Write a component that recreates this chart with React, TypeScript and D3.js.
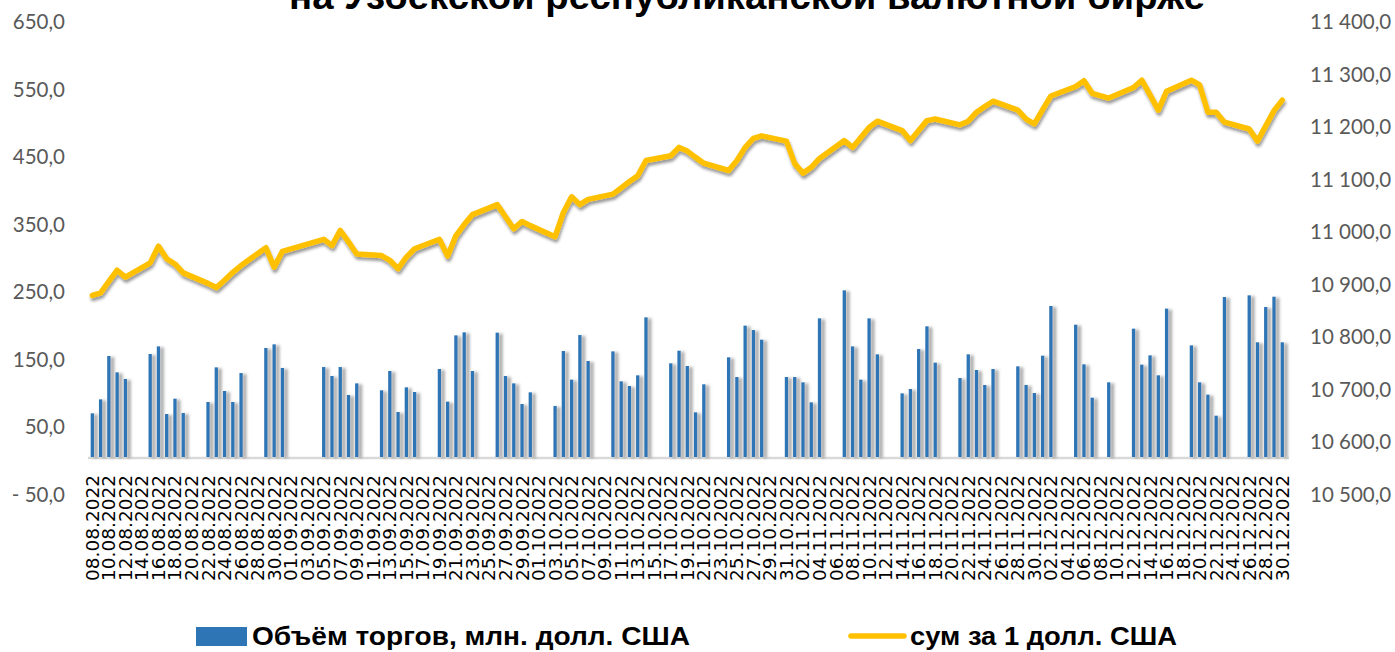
import React from "react";
import * as d3 from "d3";

// trading volume, mln USD, per trading day
const volAug = [64.7, 85.4, 149.6, 125.4, 115.6, 152.6, 163.9, 63.7, 86.4, 65.2, 81.5, 132.8, 97.8, 81.5, 124.4, 161.5, 166.9, 131.9];
const volSep = [133.3, 120, 133.3, 91.9, 109.1, 98.8, 127.4, 66.7, 103.2, 96.3, 130.4, 82, 180.2, 184.7, 127.4, 184.2, 120, 109.1, 78.5, 95.8];
const volOct = [75.6, 157, 114.6, 180.7, 142.2, 156.5, 112.1, 105.2, 121, 206.9, 138.8, 157.5, 134.8, 66.2, 107.7, 147.7, 118.5, 194.6, 188.1, 173.8, 118.5];
const volNov = [118.5, 110.6, 81, 205.4, 246.9, 163.9, 114.6, 205.4, 152.1, 94.3, 100.7, 160, 193.6, 139.8, 117, 152.1, 128.9, 106.7, 130.4, 134.3, 106.7, 94.8];
const volDec = [150.1, 223.7, 196, 137.3, 87.9, 110.6, 190.1, 136.8, 150.6, 121, 219.8, 165.4, 110.6, 92.4, 61.2, 237, 239.5, 169.9, 222.2, 237.5, 169.9];

// rate, sum per 1 USD
const rateAug = [10872, 10877, 10899, 10920, 10907, 10934, 10966, 10942, 10932, 10915, 10895, 10887, 10901, 10916, 10929, 10963, 10926, 10956];
const rateSep = [10979, 10967, 10996, 10974, 10951, 10948, 10939, 10923, 10945, 10961, 10979, 10947, 10986, 11007, 11026, 11045, 11022, 10999, 11013, 11005];
const rateOct = [10984, 11030, 11060, 11045, 11055, 11065, 11077, 11089, 11100, 11129, 11138, 11154, 11147, 11135, 11124, 11110, 11129, 11154, 11171, 11176, 11166];
const rateNov = [11123, 11105, 11116, 11133, 11167, 11154, 11173, 11192, 11204, 11186, 11167, 11186, 11205, 11208, 11197, 11204, 11221, 11232, 11242, 11225, 11208, 11199];
const rateDec = [11226, 11252, 11270, 11281, 11257, 11248, 11268, 11282, 11254, 11225, 11261, 11282, 11273, 11221, 11221, 11202, 11189, 11166, 11195, 11224, 11244];

const holidays = ["01.09.2022", "02.09.2022", "08.12.2022"];
const leftTicks = [-50, 50, 150, 250, 350, 450, 550, 650];
const rightTicks = [10500, 10600, 10700, 10800, 10900, 11000, 11100, 11200, 11300, 11400];

const title = "на Узбекской республиканской валютной бирже";
const legendBars = "Объём торгов, млн. долл. США";
const legendLine = "сум за 1 долл. США";

const fmtDay = d3.timeFormat("%d.%m.%Y");
const allDays = d3.timeDay.range(new Date(2022, 7, 8), new Date(2022, 11, 31)).map(fmtDay);
const tradeDays = d3.timeDay
  .range(new Date(2022, 7, 8), new Date(2022, 11, 31))
  .filter((d) => d.getDay() !== 0 && d.getDay() !== 6)
  .map(fmtDay)
  .filter((s) => !holidays.includes(s));

const volumes = [...volAug, ...volSep, ...volOct, ...volNov, ...volDec];
const rates = [...rateAug, ...rateSep, ...rateOct, ...rateNov, ...rateDec];
const rows = tradeDays.map((day, i) => ({ day, vol: volumes[i], rate: rates[i] }));

export default function App() {
  const width = 1395;
  const height = 652;

  const x = d3.scaleBand().domain(allDays).range([88.2, 1286.4]).paddingInner(0.6).paddingOuter(0.3);
  const yL = d3.scaleLinear().domain([-50, 650]).range([490.75, 18.25]);
  const yR = d3.scaleLinear().domain([10500, 11400]).range([490.75, 18.25]);
  const cx = (d: string) => (x(d) ?? 0) + x.bandwidth() / 2;

  const line = d3
    .line<{ day: string; rate: number }>()
    .x((d) => cx(d.day))
    .y((d) => yR(d.rate));

  const leftFmt = (v: number) => (v < 0 ? "- " + Math.abs(v).toFixed(1) : v.toFixed(1)).replace(".", ",");
  const rightFmt = (v: number) => {
    const s = v.toFixed(1).replace(".", ",");
    return s.slice(0, 2) + " " + s.slice(2);
  };

  const labelDays = allDays.filter((_, i) => i % 2 === 0);

  return (
    <svg width={width} height={height} style={{ position: "absolute", left: 0, top: 0, background: "#fff" }}>
      <defs>
        <filter id="barShadow" x="-200%" y="-5%" width="500%" height="115%">
          <feDropShadow dx="3.5" dy="1" stdDeviation="1.4" floodColor="#7a7a7a" floodOpacity="0.75" />
        </filter>
        <filter id="lineShadow" x="-5%" y="-20%" width="110%" height="150%">
          <feDropShadow dx="1" dy="3" stdDeviation="1.8" floodColor="#000" floodOpacity="0.4" />
        </filter>
      </defs>

      <text
        x={289}
        y={9}
        fontFamily="Liberation Sans, Arial, sans-serif"
        fontWeight="bold"
        fontSize={36}
        textLength={916}
        lengthAdjust="spacingAndGlyphs"
        fill="#000"
      >
        {title}
      </text>

      {/* left axis */}
      {leftTicks.map((t) => (
        <text
          key={"l" + t}
          x={65}
          y={yL(t) + 2.75}
          textAnchor="end"
          dominantBaseline="central"
          fontFamily="Lato, sans-serif"
          fontSize={20.5}
          fill="#595959"
        >
          {leftFmt(t)}
        </text>
      ))}

      {/* right axis */}
      {rightTicks.map((t) => (
        <text
          key={"r" + t}
          x={1310}
          y={yR(t) + 2.75}
          textAnchor="start"
          dominantBaseline="central"
          fontFamily="Lato, sans-serif"
          fontSize={20.5}
          fill="#595959"
        >
          {rightFmt(t)}
        </text>
      ))}

      {/* zero line */}
      <line x1={88} x2={1289} y1={yL(0) + 1} y2={yL(0) + 1} stroke="#d9d9d9" strokeWidth={2.5} />

      {/* bars */}
      <g filter="url(#barShadow)">
        {rows.map((r) => (
          <rect
            key={r.day}
            x={x(r.day)}
            y={yL(r.vol)}
            width={x.bandwidth()}
            height={yL(0) - yL(r.vol)}
            fill="#2E75B6"
          />
        ))}
      </g>

      {/* rate line */}
      <path
        d={line(rows) ?? ""}
        fill="none"
        stroke="#FFC000"
        strokeWidth={5.5}
        strokeLinejoin="round"
        strokeLinecap="round"
        filter="url(#lineShadow)"
      />

      {/* x labels */}
      {labelDays.map((d) => (
        <text
          key={"x" + d}
          transform={`translate(${cx(d)},475) rotate(-90)`}
          textAnchor="end"
          dominantBaseline="central"
          fontFamily="DejaVu Sans, sans-serif"
          fontSize={18.5}
          fill="#000"
        >
          {d}
        </text>
      ))}

      {/* legend */}
      <rect x={196} y={627} width={51} height={19} fill="#2E75B6" />
      <text
        x={252}
        y={645}
        fontFamily="Liberation Sans, Arial, sans-serif"
        fontWeight="bold"
        fontSize={25}
        textLength={438}
        lengthAdjust="spacingAndGlyphs"
        fill="#000"
      >
        {legendBars}
      </text>
      <line x1={851} x2={904} y1={636} y2={636} stroke="#FFC000" strokeWidth={5.5} strokeLinecap="round" />
      <text
        x={910}
        y={645}
        fontFamily="Liberation Sans, Arial, sans-serif"
        fontWeight="bold"
        fontSize={25}
        textLength={267}
        lengthAdjust="spacingAndGlyphs"
        fill="#000"
      >
        {legendLine}
      </text>
    </svg>
  );
}
